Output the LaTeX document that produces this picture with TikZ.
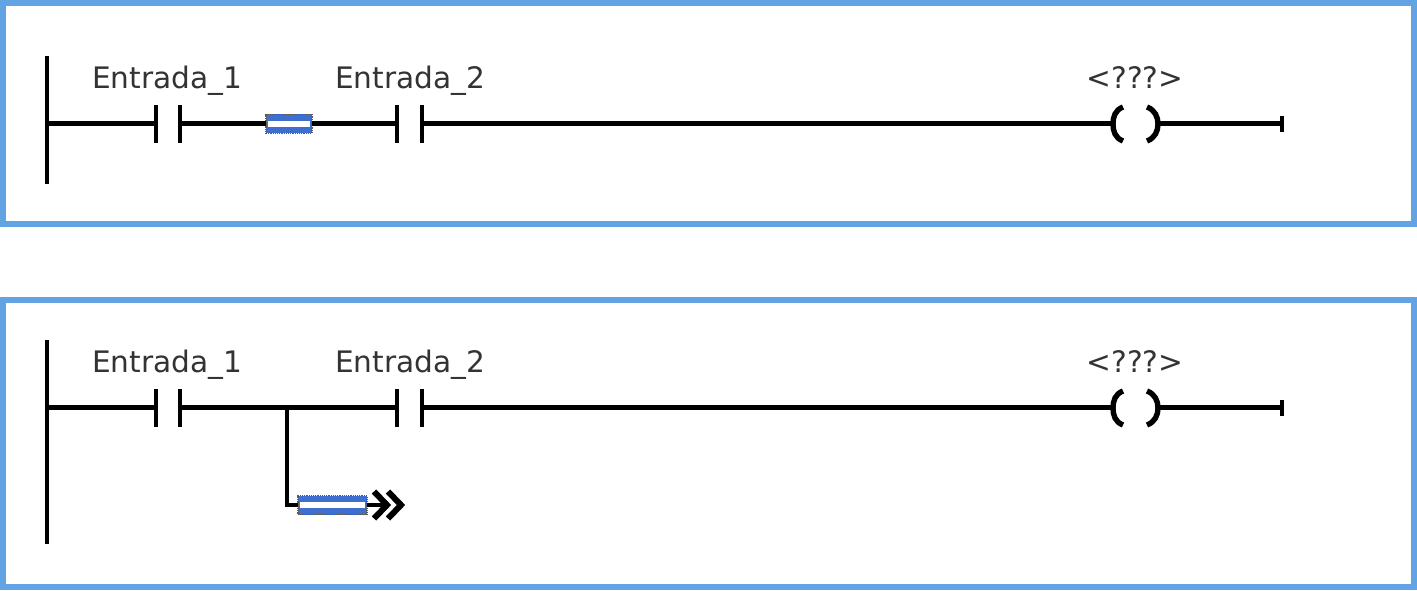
\documentclass[tikz,border=0pt]{standalone}
\usepackage{fontspec}
\setmainfont{DejaVu Sans}
\definecolor{framec}{HTML}{62A3E3}
\definecolor{selc}{HTML}{3E6FCF}
\definecolor{txtc}{HTML}{333333}
\tikzset{
 x=1pt,y=-1pt,
 frame/.style={draw=framec,line width=6pt,fill=white},
 wire/.style={draw=black,line width=4.6pt},
 rail/.style={draw=black,line width=4.8pt},
 lab/.style={font=\fontsize{29.6}{32}\selectfont,text=txtc,inner sep=0pt,anchor=base},
 coilp/.style={draw=black,line width=5.4pt,line cap=butt},
 sel/.style={draw=gray!70!black,densely dotted,line width=1.2pt,fill=selc,inner sep=0pt,outer sep=0pt},
 chev/.style={draw=black,line width=6pt,line cap=butt,miter limit=10},
}
\newcommand{\selbar}[3]{% name, width, centre
 \node[sel,minimum width=#2pt,minimum height=19pt] (#1) at (#3) {};
 \fill[white] ([xshift=2pt,yshift=2.9pt]#1.west) rectangle ([xshift=-2pt,yshift=-2.9pt]#1.east);
}
\newcommand{\rung}[2]{% prefix, y offset
 \begin{scope}[yshift=-#2 pt]
 \node[lab] (#1l1) at (167,88) {Entrada\_1};
 \node[lab] (#1l2) at (410,88) {Entrada\_2};
 \node[lab] (#1l3) at (1135,88) {<???>};
 \coordinate (#1a1t) at (156,105); \coordinate (#1a1b) at (156,143);
 \coordinate (#1a2t) at (180,105); \coordinate (#1a2b) at (180,143);
 \coordinate (#1b1t) at (397,105); \coordinate (#1b1b) at (397,143);
 \coordinate (#1b2t) at (422,105); \coordinate (#1b2b) at (422,143);
 \coordinate (#1a1) at (156,123.7); \coordinate (#1a2) at (180,123.7);
 \coordinate (#1b1) at (397,123.7); \coordinate (#1b2) at (422,123.7);
 \coordinate (#1c1) at (1112,123.7); \coordinate (#1c2) at (1160,123.7);
 \coordinate (#1e) at (1282,123.7);
 \coordinate (#1et) at (1282,115.5); \coordinate (#1eb) at (1282,132);
 \coordinate (#1r) at (47,123.7);
 \draw[rail] (#1a1t) -- (#1a1b);
 \draw[rail] (#1a2t) -- (#1a2b);
 \draw[rail] (#1b1t) -- (#1b1b);
 \draw[rail] (#1b2t) -- (#1b2b);
 \draw[wire] (#1r) -- (#1a1);
 \draw[wire] (#1b2) -- (#1c1);
 \draw[wire] (#1c2) -- (#1e);
 \draw[rail] (#1et) -- (#1eb);
 \draw[coilp] (1123,107) .. controls (1115,110) and (1113,117) .. (1113,124) .. controls (1113,131) and (1115,138) .. (1123,141);
 \draw[coilp] (1147,107) .. controls (1155,110) and (1158,117) .. (1158,124) .. controls (1158,131) and (1155,138) .. (1147,141);
 \end{scope}
}
\begin{document}
\begin{tikzpicture}
\useasboundingbox (0,0) rectangle (1417,590);
\draw[frame] (3,3) rectangle (1414,224);
\draw[frame] (3,300) rectangle (1414,587);
% top rung
\coordinate (rt1) at (47,56); \coordinate (rb1) at (47,184);
\draw[rail] (rt1) -- (rb1);
\rung{p}{0}
\coordinate (s1c) at (289,123.7);
\selbar{s1}{46}{s1c}
\draw[wire] (pa2) -- (s1);
\draw[wire] (s1) -- (pb1);
% bottom rung
\coordinate (rt2) at (47,340); \coordinate (rb2) at (47,544);
\draw[rail] (rt2) -- (rb2);
\rung{q}{284}
\draw[wire] (qa2) -- (qb1);
\coordinate (j) at (287,408);
\coordinate (k) at (287,505);
\coordinate (s2c) at (332.5,505);
\selbar{s2}{69}{s2c}
\coordinate (t) at (388,505);
\draw[wire,line join=miter] (j) -- (k) -- (s2);
\draw[wire] (s2) -- (t);
\coordinate (c1a) at (374,491.5); \coordinate (c1b) at (387,505); \coordinate (c1c) at (374,518.5);
\coordinate (c2a) at (388,491.5); \coordinate (c2b) at (401,505); \coordinate (c2c) at (388,518.5);
\draw[chev] (c1a) -- (c1b) -- (c1c);
\draw[chev] (c2a) -- (c2b) -- (c2c);
\end{tikzpicture}
\end{document}
